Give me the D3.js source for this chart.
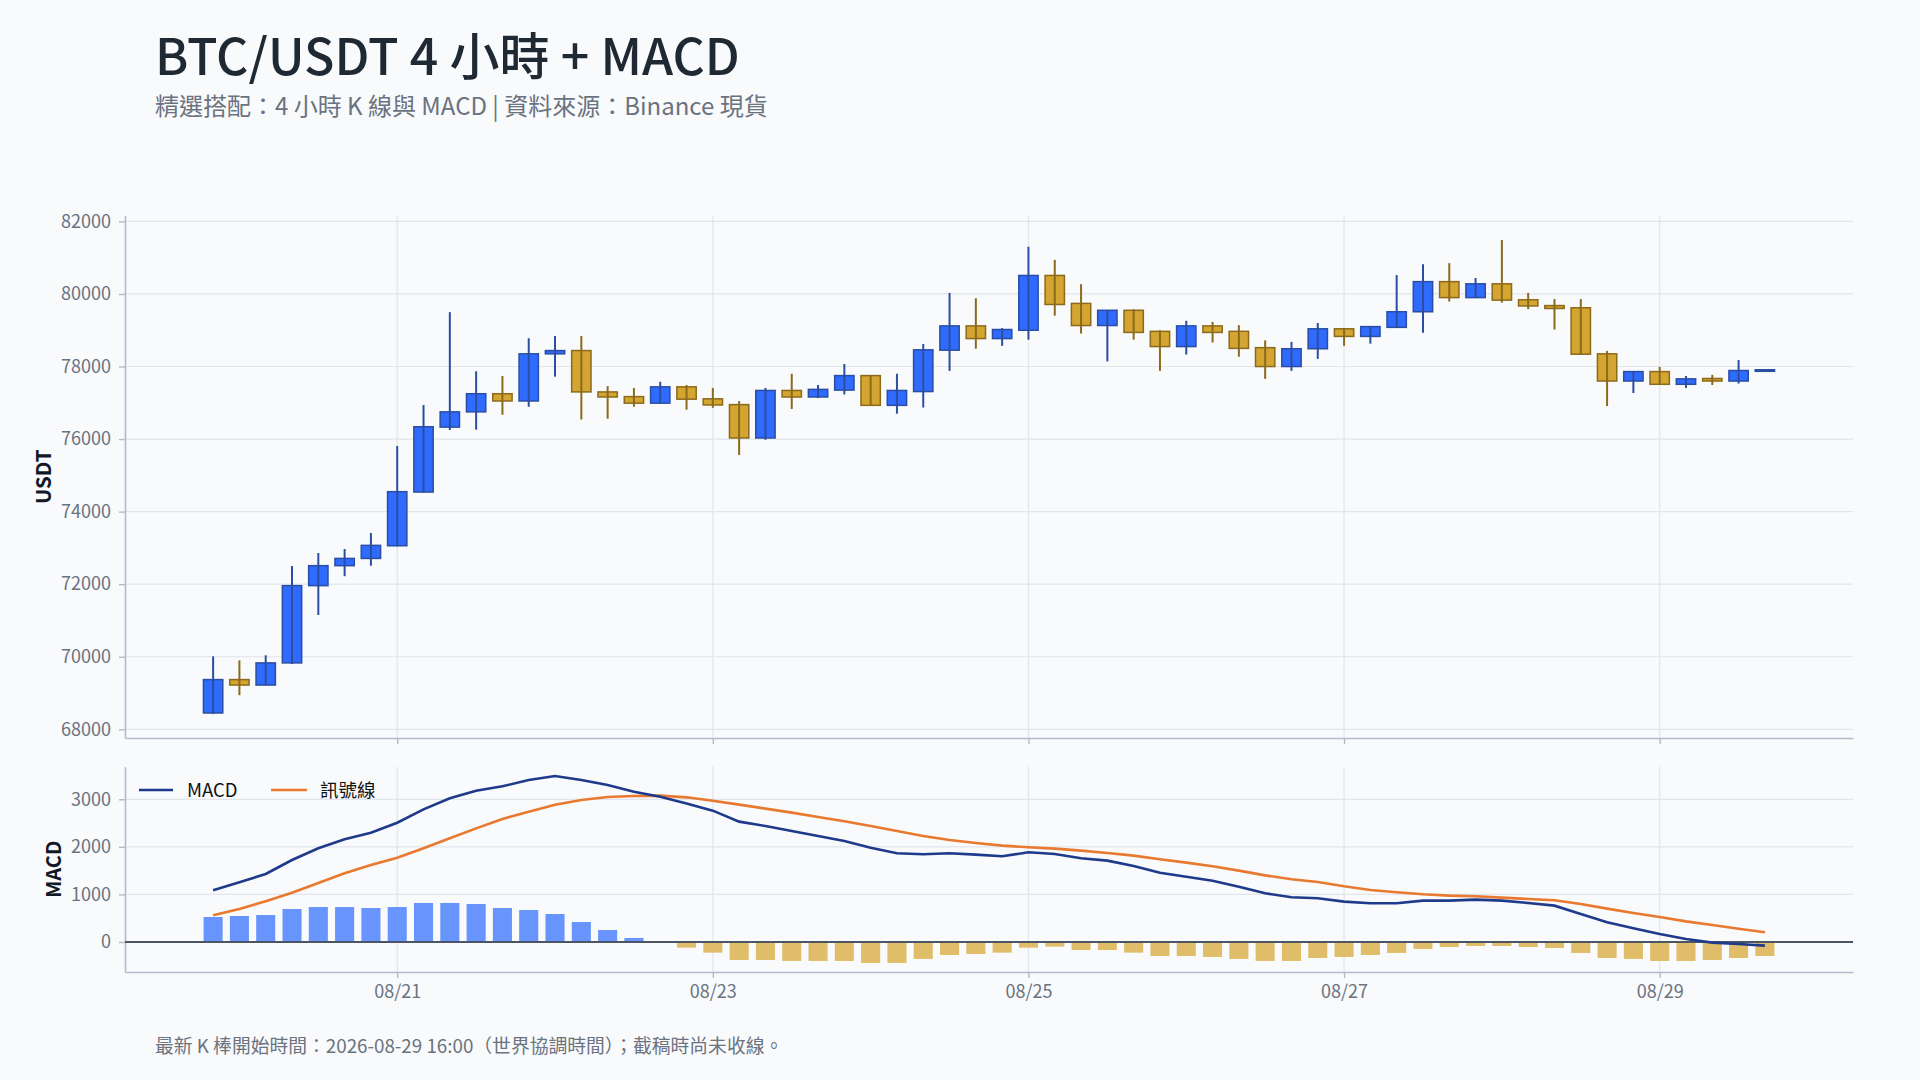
<!DOCTYPE html>
<html lang="zh-Hant-TW"><head><meta charset="utf-8">
<script src="https://cdn.jsdelivr.net/npm/d3@7"></script>
<style>
html,body{margin:0;padding:0;background:#f8fafc;}
svg{display:block;font-family:"Noto Sans CJK TC","Noto Sans",sans-serif;}
</style></head><body><svg id="chart" width="1920" height="1080"></svg>
<script>
// ---- data (4h candles, UTC) ----
const times = [
"2026-08-19T20:00Z","2026-08-20T00:00Z","2026-08-20T04:00Z","2026-08-20T08:00Z","2026-08-20T12:00Z","2026-08-20T16:00Z","2026-08-20T20:00Z",
"2026-08-21T00:00Z","2026-08-21T04:00Z","2026-08-21T08:00Z","2026-08-21T12:00Z","2026-08-21T16:00Z","2026-08-21T20:00Z",
"2026-08-22T00:00Z","2026-08-22T04:00Z","2026-08-22T08:00Z","2026-08-22T12:00Z","2026-08-22T16:00Z","2026-08-22T20:00Z",
"2026-08-23T00:00Z","2026-08-23T04:00Z","2026-08-23T08:00Z","2026-08-23T12:00Z","2026-08-23T16:00Z","2026-08-23T20:00Z",
"2026-08-24T00:00Z","2026-08-24T04:00Z","2026-08-24T08:00Z","2026-08-24T12:00Z","2026-08-24T16:00Z","2026-08-24T20:00Z",
"2026-08-25T00:00Z","2026-08-25T04:00Z","2026-08-25T08:00Z","2026-08-25T12:00Z","2026-08-25T16:00Z","2026-08-25T20:00Z",
"2026-08-26T00:00Z","2026-08-26T04:00Z","2026-08-26T08:00Z","2026-08-26T12:00Z","2026-08-26T16:00Z","2026-08-26T20:00Z",
"2026-08-27T00:00Z","2026-08-27T04:00Z","2026-08-27T08:00Z","2026-08-27T12:00Z","2026-08-27T16:00Z","2026-08-27T20:00Z",
"2026-08-28T00:00Z","2026-08-28T04:00Z","2026-08-28T08:00Z","2026-08-28T12:00Z","2026-08-28T16:00Z","2026-08-28T20:00Z",
"2026-08-29T00:00Z","2026-08-29T04:00Z","2026-08-29T08:00Z","2026-08-29T12:00Z","2026-08-29T16:00Z"];
const opens  = [68450,69370,69220,69830,71960,72510,72710,73060,74540,76330,76750,77250,77050,78350,78440,77300,77170,76990,77440,77110,
                76950,76030,77340,77160,77350,77750,76930,77310,78450,79120,78770,79000,80510,79740,79130,79550,78970,78550,79120,78970,
                78520,78000,78490,79040,78830,79080,79510,80340,79900,80280,79840,79680,79620,78350,77600,77860,77510,77670,77600,77890];
const highs  = [70010,69900,70040,72500,72860,72970,73410,75810,76940,79500,77870,77740,78780,78840,78840,77460,77410,77580,77490,77410,
                77050,77410,77800,77490,78070,77760,77800,78620,80030,79880,79060,81300,80940,80270,79560,79580,79000,79260,79230,79140,
                78720,78680,79200,79050,79110,80520,80820,80850,80440,81490,80030,79860,79860,78430,77870,77990,77740,77770,78180,77920];
const lows   = [68420,68940,69210,69800,71150,72220,72510,73040,74530,76250,76260,76670,76890,77720,76540,76560,76890,76980,76810,76860,
                75560,75980,76830,77130,77230,76920,76700,76870,77880,78490,78570,78740,79400,78910,78140,78740,77880,78330,78660,78270,
                77660,77880,78210,78570,78630,79070,78930,79790,79890,79760,79580,79020,78320,76910,77270,77500,77410,77490,77530,77880];
const closes = [69370,69220,69830,71960,72510,72710,73070,74550,76340,76750,77250,77050,78350,78440,77300,77160,76990,77440,77100,76940,
                76030,77340,77160,77370,77750,76930,77340,78460,79120,78770,79020,80510,79710,79130,79550,78940,78550,79120,78940,78500,
                78000,78490,79040,78830,79100,79510,80340,79900,80280,79830,79670,79600,78340,77600,77860,77510,77660,77600,77890,77910];
const macdLine = [1086,1254,1429,1724,1969,2158,2298,2508,2789,3020,3181,3272,3405,3489,3405,3300,3160,3055,2910,2761,
                  2530,2438,2333,2228,2123,1983,1864,1843,1864,1836,1801,1885,1850,1759,1710,1598,1457,1373,1289,1163,
                  1023,942,918,848,813,813,869,869,890,869,820,764,589,413,287,168,63,-14,-42,-77];
const signalLine = [560,694,855,1037,1240,1443,1618,1773,1969,2179,2389,2586,2740,2887,2985,3048,3069,3076,3041,2971,
                    2887,2803,2719,2628,2537,2438,2333,2228,2144,2081,2025,1990,1962,1920,1871,1815,1738,1668,1591,1500,
                    1401,1320,1261,1170,1093,1044,1002,974,960,932,904,876,799,701,610,526,434,357,280,203];
const histogram = [525,546,567,693,735,735,714,735,820,820,799,714,672,588,420,252,84,-5,-119,-224,
                   -378,-378,-399,-399,-399,-441,-441,-357,-273,-252,-224,-119,-98,-168,-168,-224,-294,-294,-315,-357,
                   -399,-399,-336,-315,-273,-231,-147,-105,-84,-84,-105,-126,-231,-336,-357,-399,-399,-378,-336,-294];
const priceTicks = [68000,70000,72000,74000,76000,78000,80000,82000];
const macdTicks = [0,1000,2000,3000];
const dateTicks = ["2026-08-21T00:00Z","2026-08-23T00:00Z","2026-08-25T00:00Z","2026-08-27T00:00Z","2026-08-29T00:00Z"];
const dateTickLabels = ["08/21","08/23","08/25","08/27","08/29"];
const legendLabels = ["MACD","訊號線"];
const titleText = "BTC/USDT 4 小時 + MACD";
const subtitleText = "精選搭配：4 小時 K 線與 MACD | 資料來源：Binance 現貨";
const footerText = "最新 K 棒開始時間：2026-08-29 16:00（世界協調時間）；截稿時尚未收線。";

// ---- styles ----
const C = {
  bg:"#f8fafc", grid:"#e1e5ec", axis:"#b3bbc9", tick:"#6b7280", title:"#1f2933",
  upFill:"#2f6bff", upLine:"#2b4ea3", dnFill:"#d4a530", dnLine:"#8c6a1c",
  histUp:"#6894fd", histDn:"#e0bd68", macd:"#1e3a8a", signal:"#e8792f", zero:"#4b5563"
};
const L = {left:125, right:1853, pTop:215.5, pBot:738, mTop:766.7, mBot:972};
const FONT = '"Noto Sans CJK TC","Noto Sans",sans-serif';

const parse = s => new Date(s);
const T = times.map(parse);
const pad = 13.4*3600*1000;
const x = d3.scaleUtc().domain([new Date(+T[0]-pad), new Date(+T[T.length-1]+pad)]).range([L.left, L.right]);
const yP = d3.scaleLinear().domain([67760, 82163]).range([L.pBot, L.pTop]);
const yM = d3.scaleLinear().domain([-631, 3685]).range([L.mBot, L.mTop]);
const step = x(T[1]) - x(T[0]);
const bodyW = step*0.735;

const svg = d3.select("#chart");
svg.append("rect").attr("width",1920).attr("height",1080).attr("fill",C.bg);

// titles
svg.append("text").attr("x",155).attr("y",75).attr("font-size",50).attr("font-weight",500).attr("fill",C.title).text(titleText);
svg.append("text").attr("x",155).attr("y",115).attr("font-size",24).attr("fill",C.tick).text(subtitleText);
svg.append("text").attr("x",155).attr("y",1053).attr("font-size",18.8).attr("fill",C.tick).text(footerText);

// grids
const g = svg.append("g");
const DT = dateTicks.map(parse);
[[L.pTop,L.pBot],[L.mTop,L.mBot]].forEach(([t,b])=>{
  g.selectAll(null).data(DT).join("line")
   .attr("x1",d=>x(d)).attr("x2",d=>x(d)).attr("y1",t).attr("y2",b)
   .attr("stroke",C.grid).attr("stroke-width",1.2);
});
g.selectAll(null).data(priceTicks).join("line")
 .attr("x1",L.left).attr("x2",L.right).attr("y1",d=>yP(d)).attr("y2",d=>yP(d))
 .attr("stroke",C.grid).attr("stroke-width",1.2);
g.selectAll(null).data(macdTicks.filter(d=>d!==0)).join("line")
 .attr("x1",L.left).attr("x2",L.right).attr("y1",d=>yM(d)).attr("y2",d=>yM(d))
 .attr("stroke",C.grid).attr("stroke-width",1.2);

// axes
function styleAxis(sel){
  sel.selectAll(".domain").attr("stroke",C.axis).attr("stroke-width",1.6);
  sel.selectAll(".tick line").attr("stroke",C.axis).attr("stroke-width",1.4);
  sel.selectAll(".tick text").attr("fill",C.tick).attr("font-size",18).attr("font-family",FONT);
}
svg.append("g").attr("transform",`translate(${L.left},0)`)
  .call(d3.axisLeft(yP).tickValues(priceTicks).tickFormat(d3.format("d")).tickSize(6).tickSizeOuter(0).tickPadding(8)).call(styleAxis);
svg.append("g").attr("transform",`translate(0,${L.pBot})`)
  .call(d3.axisBottom(x).tickValues(DT).tickFormat("").tickSize(6).tickSizeOuter(0)).call(styleAxis);
svg.append("g").attr("transform",`translate(${L.left},0)`)
  .call(d3.axisLeft(yM).tickValues(macdTicks).tickFormat(d3.format("d")).tickSize(6).tickSizeOuter(0).tickPadding(8)).call(styleAxis);
svg.append("g").attr("transform",`translate(0,${L.mBot})`)
  .call(d3.axisBottom(x).tickValues(DT).tickFormat((d,i)=>dateTickLabels[i]).tickSize(6).tickSizeOuter(0).tickPadding(7)).call(styleAxis);

// axis titles
svg.append("text").attr("transform",`translate(51,${(L.pTop+L.pBot)/2}) rotate(-90)`).attr("text-anchor","middle")
  .attr("font-size",20.5).attr("font-weight",700).attr("fill","#111827").text("USDT");
svg.append("text").attr("transform",`translate(61,${(L.mTop+L.mBot)/2}) rotate(-90)`).attr("text-anchor","middle")
  .attr("font-size",20).attr("font-weight",700).attr("fill","#111827").text("MACD");

// candles
const idx = d3.range(T.length);
const cg = svg.append("g");
const up = i => closes[i] >= opens[i];
cg.selectAll("rect").data(idx).join("rect")
  .attr("x",i=>x(T[i])-bodyW/2).attr("width",bodyW)
  .attr("y",i=>yP(Math.max(opens[i],closes[i])))
  .attr("height",i=>Math.max(1.5, Math.abs(yP(opens[i])-yP(closes[i]))))
  .attr("fill",i=>up(i)?C.upFill:C.dnFill)
  .attr("stroke",i=>up(i)?C.upLine:C.dnLine).attr("stroke-width",1.5);
cg.selectAll("line").data(idx).join("line")
  .attr("x1",i=>x(T[i])).attr("x2",i=>x(T[i]))
  .attr("y1",i=>yP(highs[i])).attr("y2",i=>yP(lows[i]))
  .attr("stroke",i=>up(i)?C.upLine:C.dnLine).attr("stroke-width",2);

// histogram
const histW = step*0.725;
svg.append("g").selectAll("rect").data(idx).join("rect")
  .attr("x",i=>x(T[i])-histW/2).attr("width",histW)
  .attr("y",i=>yM(Math.max(0,histogram[i])))
  .attr("height",i=>Math.abs(yM(histogram[i])-yM(0)))
  .attr("fill",i=>histogram[i]>=0?C.histUp:C.histDn);

// zero line
svg.append("line").attr("x1",L.left).attr("x2",L.right).attr("y1",yM(0)).attr("y2",yM(0))
  .attr("stroke",C.zero).attr("stroke-width",2);

// lines
const line = arr => d3.line().x((d,i)=>x(T[i])).y(d=>yM(d))(arr);
svg.append("path").attr("d",line(signalLine)).attr("fill","none").attr("stroke",C.signal).attr("stroke-width",2.6);
svg.append("path").attr("d",line(macdLine)).attr("fill","none").attr("stroke",C.macd).attr("stroke-width",2.6);

// legend
const lg = svg.append("g");
[[139,173,187,C.macd],[271,307,320,C.signal]].forEach((p,k)=>{
  lg.append("line").attr("x1",p[0]).attr("x2",p[1]).attr("y1",790).attr("y2",790).attr("stroke",p[3]).attr("stroke-width",2.6);
  lg.append("text").attr("x",p[2]).attr("y",797).attr("font-size",18.5).attr("fill","#111").text(legendLabels[k]);
});
</script></body></html>
